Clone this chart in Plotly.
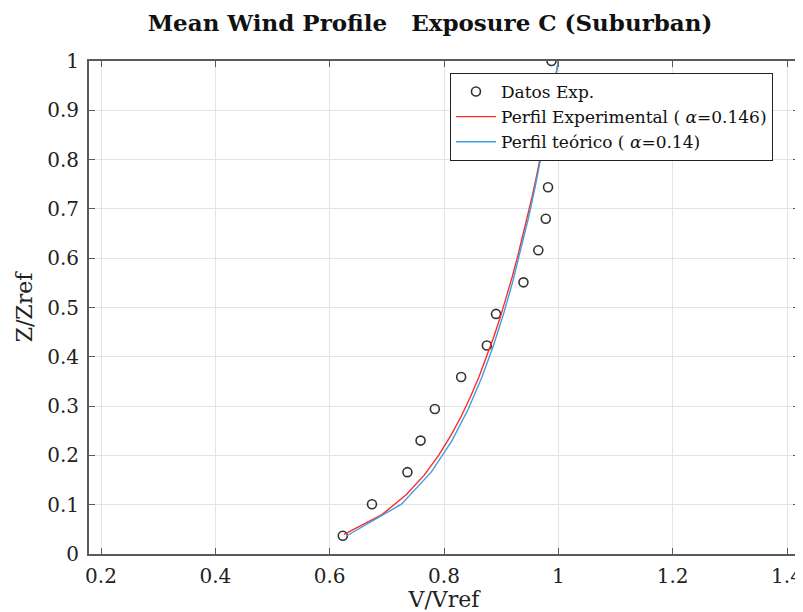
import plotly.graph_objects as go

z_exp = [0.037, 0.101, 0.166, 0.230, 0.294, 0.359, 0.423, 0.487, 0.551, 0.616,
         0.680, 0.744, 0.809, 0.873, 0.937, 1.000]
v_exp = [0.623, 0.674, 0.736, 0.759, 0.784, 0.830, 0.875, 0.891, 0.939, 0.965,
         0.978, 0.982, 0.987, 0.990, 0.993, 0.988]

# Experimental profile (alpha = 0.146)
z_red = [0.04, 0.08, 0.12, 0.16, 0.20, 0.24, 0.28, 0.32, 0.36, 0.40, 0.44, 0.48, 0.52,
         0.56, 0.60, 0.64, 0.68, 0.72, 0.76, 0.80, 0.84, 0.88, 0.92, 0.96, 1.00]
v_red = [0.6250, 0.6916, 0.7338, 0.7653, 0.7906, 0.8119, 0.8304, 0.8467, 0.8614,
         0.8748, 0.8870, 0.8984, 0.9089, 0.9188, 0.9281, 0.9369, 0.9452, 0.9532,
         0.9607, 0.9679, 0.9749, 0.9815, 0.9879, 0.9941, 1.0000]

# Theoretical profile (alpha = 0.14)
z_blue = z_exp
v_blue = [0.630, 0.7255, 0.7777, 0.8140, 0.8425, 0.8664, 0.8865, 0.9042, 0.9199,
          0.9344, 0.9474, 0.9594, 0.9708, 0.9812, 0.9909, 1.000]

x_ticks = [0.2, 0.4, 0.6, 0.8, 1.0, 1.2, 1.4]
x_ticklabels = ["0.2", "0.4", "0.6", "0.8", "1", "1.2", "1.4"]
y_ticks = [0, 0.1, 0.2, 0.3, 0.4, 0.5, 0.6, 0.7, 0.8, 0.9, 1.0]
y_ticklabels = ["0", "0.1", "0.2", "0.3", "0.4", "0.5", "0.6", "0.7", "0.8", "0.9", "1"]

SERIF = "DejaVu Serif, Liberation Serif, serif"

# page body has an 8px margin: figure canvas starts at (8, 8)
W, H = 795, 604
L, T, B = 81, 53, 58

fig = go.Figure()
fig.add_trace(go.Scatter(
    x=v_exp, y=z_exp, mode="markers", name="Datos Exp.",
    marker=dict(symbol="circle-open", size=9, color="#333333", line=dict(width=1.6)),
))
fig.add_trace(go.Scatter(
    x=v_red, y=z_red, mode="lines", name="Perfil Experimental ( <i>α</i>=0.146)",
    line=dict(color="#ff2a2a", width=1.4),
))
fig.add_trace(go.Scatter(
    x=v_blue, y=z_blue, mode="lines", name="Perfil teórico ( <i>α</i>=0.14)",
    line=dict(color="#3c9fe0", width=1.4),
))

axis_common = dict(
    showgrid=True, gridcolor="#e4e4e4", gridwidth=1,
    showline=True, linecolor="#5a5a5a", linewidth=2, mirror="allticks",
    ticks="inside", ticklen=6, tickcolor="#5a5a5a", tickwidth=1,
    zeroline=False, ticklabeloverflow="allow",
    tickfont=dict(family=SERIF, size=20, color="#222222"),
)

fig.update_layout(
    width=W, height=H,
    margin=dict(l=L, r=0, t=T, b=B),
    paper_bgcolor="white", plot_bgcolor="white",
    title=dict(
        text="<b>Mean Wind Profile   Exposure C (Suburban)</b>",
        x=(430 - 8) / W, xref="container", xanchor="center",
        y=1 - (23 - 8) / H, yref="container", yanchor="middle",
        font=dict(family=SERIF, size=23, color="#111111"),
    ),
    xaxis=dict(
        range=[0.179, 1.421], tickvals=x_ticks, ticktext=x_ticklabels,
        title=dict(text="V/Vref", font=dict(family=SERIF, size=22, color="#222222"), standoff=4),
        ticklabelstandoff=3,
        **axis_common,
    ),
    yaxis=dict(
        range=[0, 1.0], tickvals=y_ticks, ticktext=y_ticklabels,
        title=dict(text="Z/Zref", font=dict(family=SERIF, size=22, color="#222222"), standoff=8),
        ticklabelstandoff=4,
        **axis_common,
    ),
    legend=dict(
        x=(452 - 89) / 714, y=1 - 12 / 493, xanchor="left", yanchor="top",
        bgcolor="white", bordercolor="#222222", borderwidth=1,
        font=dict(family=SERIF, size=17, color="#111111"),
        itemwidth=40, tracegroupgap=0,
    ),
    showlegend=True,
)

fig.write_html("out.html")
